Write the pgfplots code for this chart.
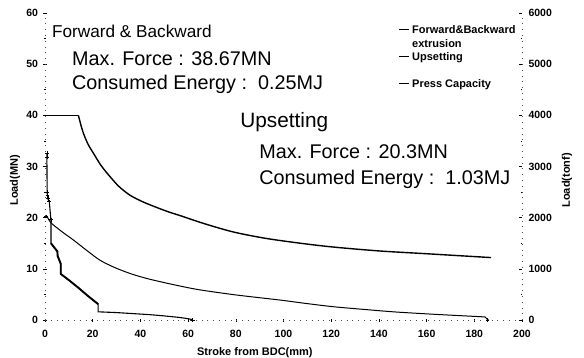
\documentclass[border=0pt]{standalone}
\usepackage{fontspec}
\setmainfont{Liberation Sans}
\usepackage{pgfplots}
\pgfplotsset{compat=1.18}
\begin{document}
\begin{tikzpicture}
\useasboundingbox (-45bp,-38bp) rectangle (539bp,320bp);
\begin{axis}[
  scale only axis, width=477bp, height=307bp,
  xmin=0, xmax=200, ymin=0, ymax=60,
  axis x line*=bottom, axis y line*=left,
  axis line style={-, black!70, line width=0.6bp, dash pattern=on 0.8bp off 5bp},
  xtick={0,20,...,200}, ytick={0,10,...,60},
  minor y tick num=1,
  tick style={black, line width=0.6bp},
  major tick length=3bp, minor tick length=1.5bp,
  tick align=center,
  /pgf/number format/assume math mode=true,
  ticklabel style={font=\bfseries\fontsize{10.5bp}{12bp}\selectfont},
  xticklabel style={yshift=-5bp},
  yticklabel style={xshift=-2bp},
  xlabel={Stroke from BDC(mm)},
  ylabel={Load(MN)},
  every axis x label/.style={at={(axis description cs:0.44,-0.1065)}, anchor=center},
  every axis y label/.style={at={(axis description cs:-0.0629,0.455)}, rotate=90, anchor=center},
  label style={font=\bfseries\fontsize{11bp}{13bp}\selectfont},
  legend style={at={(axis description cs:0.734,0.969)}, anchor=north west, draw=none, fill=none,
    font=\bfseries\fontsize{11bp}{12bp}\selectfont, row sep=17bp, column sep=1.5bp,
    nodes={inner sep=1bp, text height=8bp, text depth=0bp}},
  legend cell align=left,
  legend image code/.code={\draw[#1] (0bp,0.5bp) -- (10bp,0.5bp);},
  clip=false,
]
\addplot[black, line width=1.1bp] coordinates {
(0.8,32.6)(0.8,31.5)(0.9,25)(1.0,24.4)(1.3,23.5)(1.8,23.1)(2.3,20.5)(2.5,19.5)(2.5,15.0)
(3.5,14.4)(5.2,13.4)(5.3,12.5)(6.6,11.0)(6.6,9.0)(10,7.8)(14,6.3)(18,4.7)(22.3,3.1)
(22.3,1.6)(30,1.45)(43.8,1.05)(50,0.8)(56.4,0.5)(60,0.25)(62,0.05)};
\addlegendentry{\begin{tabular}[t]{@{}l@{}}Forward\&Backward\\[1.5bp]extrusion\end{tabular}}
\addplot[black, line width=1bp, smooth, tension=0.5] coordinates {
(0.8,20.3)(2.5,19.0)(7,17.3)(12,15.6)(17.5,13.6)(23,11.7)(29,10.3)(35.6,9.1)(42,8.2)
(48.2,7.5)(56,6.7)(64.8,5.9)(80,4.9)(98.5,3.9)(110,3.2)(120.8,2.6)(133,2.1)(146,1.6)
(160,1.2)(172,0.9)(184.5,0.6)};
\addlegendentry{Upsetting}
\addplot[black, line width=1.4bp, smooth, tension=0.5] coordinates {
(14,40)(15,38.2)(16.1,36.5)(18,34.4)(20.3,32.6)(23.5,30.2)(27.3,28.0)(31,26.1)
(35.6,24.4)(41,23.1)(46.8,22.0)(52,21.1)(57,20.35)(67,18.8)(79,17.2)(92,16.0)
(105.5,15.1)(120,14.3)(140,13.5)(160,12.95)(187,12.2)};
\addlegendentry{Press Capacity}
\addplot[black, line width=1.4bp, forget plot] coordinates {(0,40)(14,40)};
\addplot[black, line width=1bp, forget plot] coordinates {(184.5,0.6)(185.5,0.1)(186,0)};
\addplot[black, line width=1.9bp, forget plot] coordinates {
(2.5,15.0)(3.5,14.4)(5.2,13.4)(5.3,12.5)(6.6,11.0)(6.6,9.0)(10,7.8)(14,6.3)(18,4.7)(22.3,3.1)};
\addplot[black, only marks, mark=+, mark size=1.8bp, line width=0.8bp, forget plot] coordinates {
(0.8,32.6)(0.8,31.8)(0.9,25)(1.0,24.4)(1.3,23.8)(1.8,23.1)(0.4,20.2)(2.5,19.6)(62,0)(185.5,0)};
\begin{scope}[every node/.style={anchor=base west, inner sep=0pt, font=\fontsize{19.8bp}{23bp}\selectfont}]
\node[font=\fontsize{17.2bp}{21bp}\selectfont] at (axis cs:2.9,55.3) {Forward \& Backward};
\node at (axis cs:11.3,49.8) {Max. Force : 38.67MN};
\node at (axis cs:11.3,45.1) {Consumed Energy :\ \ 0.25MJ};
\node[font=\fontsize{20.8bp}{24bp}\selectfont] at (axis cs:81.8,37.6) {Upsetting};
\node at (axis cs:89.8,31.5) {Max. Force : 20.3MN};
\node at (axis cs:89.8,26.4) {Consumed Energy :\ \ 1.03MJ};
\end{scope}
\end{axis}
\begin{axis}[
  scale only axis, width=477bp, height=307bp,
  xmin=0, xmax=200, ymin=0, ymax=6000,
  hide x axis, axis y line*=right,
  axis line style={-, black!70, line width=0.6bp, dash pattern=on 0.8bp off 5bp},
  ytick={0,1000,...,6000}, minor y tick num=1,
  tick style={black, line width=0.6bp},
  major tick length=3bp, minor tick length=1.5bp,
  tick align=inside,
  /pgf/number format/assume math mode=true,
  /pgf/number format/set thousands separator={},
  ticklabel style={font=\bfseries\fontsize{10.5bp}{12bp}\selectfont},
  yticklabel style={xshift=3bp},
  ylabel={Load(tonf)},
  every axis y label/.style={at={(axis description cs:1.0943,0.455)}, rotate=90, anchor=center},
  label style={font=\bfseries\fontsize{11bp}{13bp}\selectfont},
]
\end{axis}
\end{tikzpicture}
\end{document}
